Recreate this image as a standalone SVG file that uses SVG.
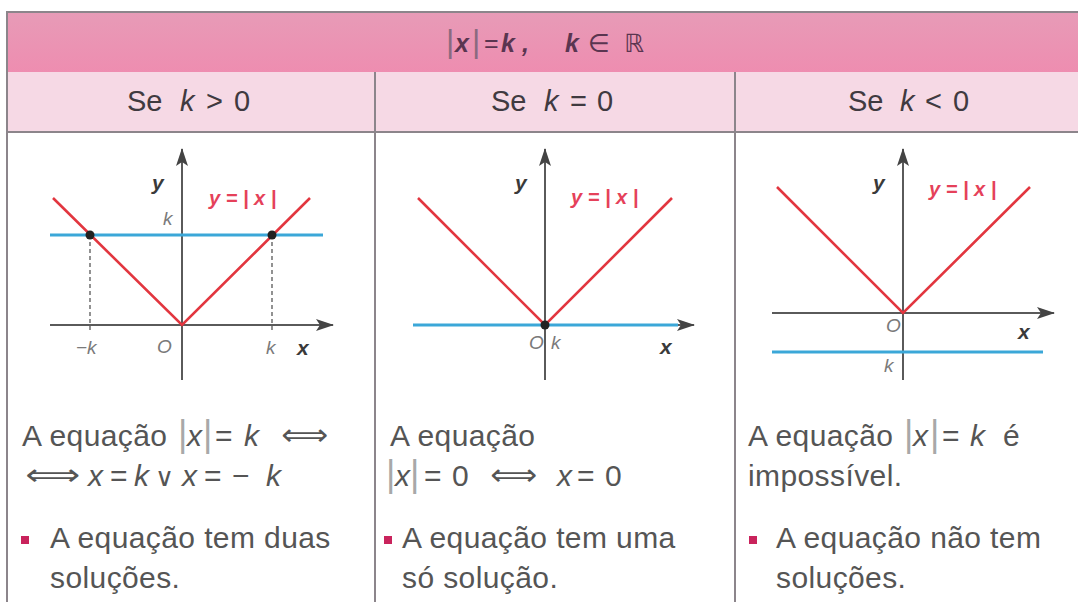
<svg xmlns="http://www.w3.org/2000/svg" width="1078" height="602" viewBox="0 0 1078 602">
<defs>
<linearGradient id="hdr" x1="0" y1="0" x2="0" y2="1">
<stop offset="0" stop-color="#e79bb7"/>
<stop offset="1" stop-color="#ee8db0"/>
</linearGradient>
<marker id="arr" viewBox="0 0 18 12" refX="17" refY="6" markerWidth="18" markerHeight="12" markerUnits="userSpaceOnUse" orient="auto">
<path d="M0,0 L18,6 L0,12 L4,6 Z" fill="#444"/>
</marker>
<style>
.t{font-family:"Liberation Sans","DejaVu Sans",sans-serif;font-size:30px;fill:#555;letter-spacing:0.4px}
.h{font-family:"Liberation Sans","DejaVu Sans",sans-serif;font-size:25px;fill:#5a3550}
.s{font-family:"Liberation Sans","DejaVu Sans",sans-serif;font-size:29px;fill:#403a40}
.i{font-style:italic}
.bi{font-style:italic;font-weight:bold}
.dv{font-family:"DejaVu Sans",sans-serif;font-size:26px}
.bar{font-family:"Liberation Sans",sans-serif;font-size:36px;fill:#a8a8a8}
.arrw{font-family:"DejaVu Sans",sans-serif;font-size:30px;fill:#555}
.grid{stroke:#8c858b;stroke-width:2;fill:none}
.axis{stroke:#5a5a5a;stroke-width:2;fill:none}
.red{stroke:#e2363f;stroke-width:2.6;fill:none;stroke-linejoin:miter}
.blue{stroke:#3ba7d8;stroke-width:3;fill:none}
.dash{stroke:#777;stroke-width:1.6;stroke-dasharray:4 3;fill:none}
.ly{font-family:"Liberation Sans",sans-serif;font-size:21px;font-style:italic;font-weight:bold;fill:#3a3a3a}
.lr{font-family:"Liberation Sans",sans-serif;font-size:20px;font-style:italic;font-weight:bold;fill:#e5415a}
.lg{font-family:"Liberation Sans",sans-serif;font-size:19px;font-style:italic;fill:#7a7a7a}
.bul{fill:#c9235c}
</style>
</defs>
<rect width="1078" height="602" fill="#ffffff"/>
<g id="header">
<rect x="7" y="12" width="1071" height="60" fill="url(#hdr)"/>
<text class="h" y="52"><tspan x="446" class="bar" style="font-size:32px;fill:#8a6a80">|</tspan><tspan x="455" class="bi">x</tspan><tspan x="472" class="bar" style="font-size:32px;fill:#8a6a80">|</tspan><tspan x="484">=</tspan><tspan x="501" class="bi">k</tspan><tspan x="522" class="bi">,</tspan><tspan x="565" class="bi">k</tspan><tspan x="588">∈</tspan><tspan x="624">ℝ</tspan></text>
</g>
<g id="subheader">
<rect x="7" y="72" width="1071" height="60" fill="#f6d9e5"/>
<text class="s" y="111"><tspan x="127">Se</tspan><tspan x="180" class="i">k</tspan><tspan x="206">&gt;</tspan><tspan x="234">0</tspan></text>
<text class="s" y="111"><tspan x="491">Se</tspan><tspan x="544" class="i">k</tspan><tspan x="570">=</tspan><tspan x="597">0</tspan></text>
<text class="s" y="111"><tspan x="848">Se</tspan><tspan x="900" class="i">k</tspan><tspan x="925">&lt;</tspan><tspan x="953">0</tspan></text>
</g>
<g id="grid">
<line class="grid" x1="7" y1="12" x2="1078" y2="12"/>
<line class="grid" x1="7" y1="11" x2="7" y2="602"/>
<line class="grid" x1="7" y1="132" x2="1078" y2="132"/>
<line class="grid" x1="375" y1="72" x2="375" y2="602"/>
<line class="grid" x1="735" y1="72" x2="735" y2="602"/>
</g>
<g id="col1">
<g id="graph1">
<line class="axis" x1="50" y1="325" x2="333" y2="325" marker-end="url(#arr)"/>
<line class="axis" x1="182" y1="380" x2="182" y2="149" marker-end="url(#arr)"/>
<line class="dash" x1="90" y1="235" x2="90" y2="332"/>
<line class="dash" x1="272" y1="235" x2="272" y2="332"/>
<line class="blue" x1="50" y1="235" x2="323" y2="235"/>
<polyline class="red" points="53,198 182,325 310,198"/>
<circle cx="90" cy="235" r="4.5" fill="#222"/>
<circle cx="272" cy="235" r="4.5" fill="#222"/>
<text class="ly" x="152" y="190">y</text>
<text class="lg" x="163" y="225">k</text>
<text class="lr" x="209" y="205">y = | x |</text>
<text class="lg" x="76" y="354">−k</text>
<text class="lg" x="157" y="353">O</text>
<text class="lg" x="266" y="354">k</text>
<text class="ly" x="297" y="355">x</text>
</g>
<text class="t" y="446"><tspan x="22">A equação</tspan><tspan x="178" class="bar">|</tspan><tspan x="187" class="i">x</tspan><tspan x="203" class="bar">|</tspan><tspan x="215">=</tspan><tspan x="244" class="i">k</tspan></text>
<text class="arrw" x="281" y="445" textLength="47" lengthAdjust="spacingAndGlyphs">⟺</text>
<text class="arrw" x="25" y="485" textLength="55" lengthAdjust="spacingAndGlyphs">⟺</text>
<text class="t" y="486"><tspan x="88" class="i">x</tspan><tspan x="110">=</tspan><tspan x="134" class="i">k</tspan><tspan x="155" class="dv">∨</tspan><tspan x="182" class="i">x</tspan><tspan x="204">=</tspan><tspan x="232">−</tspan><tspan x="266" class="i">k</tspan></text>
<rect class="bul" x="21" y="536" width="8" height="8"/>
<text class="t" x="50" y="548">A equação tem duas</text>
<text class="t" x="50" y="588">soluções.</text>
</g>
<g id="col2">
<g id="graph2">
<line class="axis" x1="413" y1="325" x2="694" y2="325" marker-end="url(#arr)"/>
<line class="axis" x1="545" y1="380" x2="545" y2="149" marker-end="url(#arr)"/>
<line class="blue" x1="413" y1="325" x2="678" y2="325"/>
<polyline class="red" points="418,198 545,325 672,198"/>
<circle cx="545" cy="325" r="4.5" fill="#222"/>
<text class="ly" x="515" y="190">y</text>
<text class="lr" x="571" y="204">y = | x |</text>
<text class="lg" x="529" y="349">O</text>
<text class="lg" x="551" y="349">k</text>
<text class="ly" x="660" y="354">x</text>
</g>
<text class="t" x="390" y="446">A equação</text>
<text class="t" y="486"><tspan x="386" class="bar">|</tspan><tspan x="395" class="i">x</tspan><tspan x="410" class="bar">|</tspan><tspan x="424">=</tspan><tspan x="452">0</tspan></text>
<text class="arrw" x="490" y="485" textLength="47" lengthAdjust="spacingAndGlyphs">⟺</text>
<text class="t" y="486"><tspan x="557" class="i">x</tspan><tspan x="577">=</tspan><tspan x="605">0</tspan></text>
<rect class="bul" x="384" y="536" width="8" height="8"/>
<text class="t" x="402" y="548">A equação tem uma</text>
<text class="t" x="402" y="588">só solução.</text>
</g>
<g id="col3">
<g id="graph3">
<line class="axis" x1="772" y1="313" x2="1054" y2="313" marker-end="url(#arr)"/>
<line class="axis" x1="903" y1="380" x2="903" y2="149" marker-end="url(#arr)"/>
<line class="blue" x1="772" y1="352" x2="1043" y2="352"/>
<polyline class="red" points="777,187 903,313 1030,187"/>
<text class="ly" x="873" y="190">y</text>
<text class="lr" x="929" y="196">y = | x |</text>
<text class="lg" x="886" y="332">O</text>
<text class="ly" x="1018" y="339">x</text>
<text class="lg" x="884" y="372">k</text>
</g>
<text class="t" y="446"><tspan x="748">A equação</tspan><tspan x="904" class="bar">|</tspan><tspan x="913" class="i">x</tspan><tspan x="930" class="bar">|</tspan><tspan x="942">=</tspan><tspan x="970" class="i">k</tspan><tspan x="1003">é</tspan></text>
<text class="t" x="748" y="486">impossível.</text>
<rect class="bul" x="749" y="536" width="8" height="8"/>
<text class="t" x="776" y="548">A equação não tem</text>
<text class="t" x="776" y="588">soluções.</text>
</g>
</svg>
